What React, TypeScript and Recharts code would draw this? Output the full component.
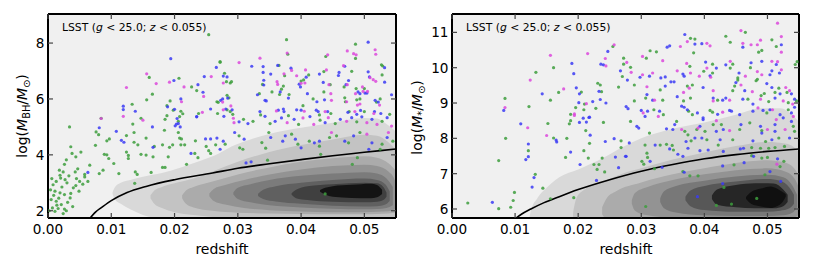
import React from 'react';
import { ComposedChart, Area, Line, Scatter, XAxis, YAxis, CartesianGrid } from 'recharts';

// [redshift, value]
type P = [number, number];
// [redshift, lower edge, upper edge]
type B = [number, number, number];

const FONT = '"DejaVu Sans", Verdana, sans-serif';
const Z_TICKS = [0, 0.01, 0.02, 0.03, 0.04, 0.05];
const BH_TICKS = [2, 4, 6, 8];
const STAR_TICKS = [6, 7, 8, 9, 10, 11];
const BH_DOMAIN: [number, number] = [1.74, 9.04];
const STAR_DOMAIN: [number, number] = [5.745, 11.52];
const BH_FILLS = ['#d9d9d9', '#c3c3c3', '#ababab', '#939393', '#7b7b7b', '#606060', '#404040', '#141414'];
const STAR_FILLS = ['#d9d9d9', '#c3c3c3', '#ababab', '#939393', '#787878', '#575757', '#262626', '#101010'];
const GREEN = '#3d9e3d';
const BLUE = '#3b3bf5';
const MAGENTA = '#dc48dc';

// density contours, black hole mass panel (outer -> inner)
const BH_CONTOURS: B[][] = [
  [[0.0102, 2.6, 2.66], [0.0106, 2.4, 2.85], [0.0115, 2.25, 3.0], [0.013, 2.05, 3.1], [0.015, 1.85, 3.22], [0.018, 1.7, 3.35], [0.021, 1.6, 3.55], [0.024, 1.6, 3.78], [0.027, 1.6, 4.05], [0.029, 1.6, 4.3], [0.032, 1.6, 4.55], [0.035, 1.6, 4.75], [0.04, 1.6, 4.97], [0.045, 1.6, 5.15], [0.05, 1.6, 5.32], [0.052, 1.6, 5.3], [0.0535, 1.6, 5.1], [0.0556, 1.6, 4.7]],
  [[0.0162, 2.45, 2.55], [0.0168, 2.25, 2.72], [0.018, 2.1, 2.85], [0.02, 1.95, 2.98], [0.023, 1.85, 3.15], [0.026, 1.78, 3.4], [0.03, 1.75, 3.75], [0.035, 1.72, 4.1], [0.04, 1.7, 4.35], [0.045, 1.7, 4.55], [0.05, 1.7, 4.72], [0.052, 1.7, 4.68], [0.0538, 1.72, 4.45], [0.0556, 1.75, 4.0]],
  [[0.0212, 2.45, 2.55], [0.0218, 2.25, 2.72], [0.023, 2.12, 2.85], [0.026, 2.0, 3.05], [0.03, 1.93, 3.3], [0.035, 1.9, 3.55], [0.04, 1.88, 3.75], [0.045, 1.87, 3.88], [0.05, 1.87, 3.95], [0.052, 1.88, 3.9], [0.0538, 1.9, 3.7], [0.0553, 1.95, 3.35]],
  [[0.0255, 2.52, 2.62], [0.0262, 2.35, 2.78], [0.028, 2.22, 2.92], [0.031, 2.1, 3.1], [0.035, 2.02, 3.3], [0.04, 1.97, 3.48], [0.045, 1.95, 3.6], [0.05, 1.95, 3.65], [0.052, 1.96, 3.6], [0.0538, 1.98, 3.4], [0.0548, 2.05, 3.1], [0.0552, 2.2, 2.8]],
  [[0.0293, 2.58, 2.66], [0.03, 2.42, 2.82], [0.032, 2.3, 2.95], [0.035, 2.2, 3.1], [0.04, 2.12, 3.25], [0.045, 2.07, 3.33], [0.05, 2.05, 3.38], [0.052, 2.06, 3.33], [0.0535, 2.1, 3.15], [0.0545, 2.2, 2.85]],
  [[0.0332, 2.53, 2.61], [0.034, 2.42, 2.75], [0.036, 2.33, 2.88], [0.04, 2.25, 3.0], [0.045, 2.18, 3.1], [0.05, 2.15, 3.15], [0.052, 2.16, 3.1], [0.0533, 2.22, 2.95], [0.054, 2.35, 2.7]],
  [[0.0385, 2.57, 2.63], [0.0392, 2.45, 2.75], [0.041, 2.38, 2.88], [0.045, 2.32, 2.95], [0.05, 2.3, 3.0], [0.052, 2.32, 2.98], [0.053, 2.38, 2.85], [0.0535, 2.5, 2.65]],
  [[0.043, 2.68, 2.74], [0.0438, 2.58, 2.82], [0.045, 2.5, 2.88], [0.048, 2.46, 2.93], [0.051, 2.45, 2.97], [0.052, 2.48, 2.92], [0.0528, 2.6, 2.75]],
];

const BH_CURVE: P[] = [[0.0066, 1.72], [0.0075, 1.95], [0.0085, 2.12], [0.01, 2.36], [0.0125, 2.65], [0.0155, 2.87], [0.02, 3.11], [0.026, 3.35], [0.03, 3.52], [0.035, 3.68], [0.04, 3.83], [0.045, 3.97], [0.05, 4.09], [0.055, 4.21]];

const BH_GREEN: P[] = [
  [0.0254, 8.3], [0.0272, 7.34], [0.016, 6.77], [0.0207, 6.74], [0.0227, 6.43], [0.0235, 6.3], [0.0165, 6.17], [0.0193, 5.93], [0.0156, 5.97], [0.0133, 5.81], [0.0188, 5.76], [0.0198, 5.6], [0.021, 5.56], [0.0213, 5.47], [0.0238, 5.48], [0.0267, 5.9], [0.0269, 5.88], [0.0208, 5.37], [0.0188, 5.4], [0.0084, 5.31], [0.0147, 5.31], [0.0268, 5.48],
  [0.0377, 8.12], [0.0486, 7.96], [0.0486, 7.45], [0.0379, 7.6], [0.0439, 7.52], [0.0365, 7.2], [0.0412, 6.86], [0.0374, 6.83], [0.0436, 6.98], [0.048, 6.99], [0.0527, 7.22], [0.0529, 7.18], [0.0528, 6.86], [0.0279, 6.92], [0.0282, 6.62], [0.0288, 6.57], [0.029, 6.62], [0.0272, 7.31], [0.0339, 6.52], [0.0372, 6.46], [0.04, 6.64], [0.0404, 6.68], [0.0446, 6.51], [0.0468, 6.43], [0.0487, 6.37], [0.05, 6.37], [0.0283, 6.13], [0.0286, 6.04], [0.0334, 6.19], [0.0354, 6.25], [0.0366, 6.16], [0.0369, 6.35], [0.0381, 6.16], [0.0419, 6.0], [0.0436, 6.25], [0.0469, 6.04], [0.047, 5.9], [0.0488, 5.97], [0.0493, 6.0], [0.0519, 5.89], [0.0525, 6.0], [0.0283, 5.61], [0.0288, 5.55], [0.0292, 5.45], [0.0336, 5.43], [0.038, 5.4], [0.0403, 5.76], [0.0429, 5.43], [0.0447, 5.48], [0.0476, 5.55], [0.05, 5.55], [0.054, 5.45],
  [0.0185, 5.27], [0.0206, 5.2], [0.0034, 5.0], [0.0076, 4.82], [0.008, 4.72], [0.0134, 5.1], [0.0206, 4.8], [0.0184, 4.88], [0.0155, 4.6], [0.0136, 4.8], [0.0124, 4.69], [0.0097, 4.57], [0.0093, 4.5], [0.0136, 4.45], [0.0075, 4.34], [0.0036, 4.29], [0.0038, 4.05], [0.0052, 4.1], [0.0044, 3.93], [0.0026, 3.66], [0.0029, 3.82], [0.0024, 3.39], [0.0019, 3.27], [0.002, 3.17], [0.0027, 3.11], [0.003, 3.0], [0.0013, 3.05], [0.0008, 2.93], [0.0004, 2.75], [0.0011, 2.7], [0.0019, 2.64], [0.0026, 2.58], [0.0005, 2.4], [0.0013, 2.34], [0.0021, 2.22], [0.0007, 2.1], [0.0016, 2.08], [0.0026, 2.06], [0.0002, 2.0], [0.0011, 1.98], [0.0029, 2.0], [0.0043, 3.39], [0.0045, 3.15], [0.005, 3.05], [0.0058, 3.21], [0.0063, 3.05], [0.0049, 2.7], [0.0035, 2.46], [0.004, 2.82], [0.0066, 3.63], [0.0081, 3.33], [0.0087, 3.45], [0.0096, 3.87], [0.0089, 4.02], [0.0104, 3.69], [0.0112, 3.33], [0.0138, 3.39], [0.0141, 3.3], [0.0137, 2.98], [0.0124, 4.1], [0.0127, 3.98], [0.0127, 3.87], [0.0147, 4.02], [0.0155, 3.99], [0.0168, 4.3], [0.0166, 3.93], [0.0163, 3.37], [0.0181, 3.55], [0.0185, 3.55], [0.0181, 4.36], [0.0192, 4.27], [0.0197, 4.36], [0.019, 3.93], [0.0142, 4.36], [0.0093, 4.0], [0.0208, 4.6], [0.0211, 4.57], [0.0233, 4.5], [0.0232, 4.05], [0.021, 4.36], [0.0216, 4.36], [0.025, 4.3], [0.0257, 4.05], [0.0219, 3.66], [0.0237, 3.9], [0.0254, 4.15], [0.0265, 4.36],
  [0.0009, 2.55], [0.0017, 2.45], [0.0031, 2.3], [0.0036, 2.62], [0.0044, 2.9], [0.0022, 2.85], [0.0014, 2.2], [0.0033, 3.25], [0.0055, 2.95], [0.0047, 3.5], [0.0006, 3.15], [0.0024, 1.9], [0.0039, 2.15], [0.0018, 3.45], [0.0058, 3.3],
  [0.0309, 5.27], [0.0324, 5.2], [0.0351, 5.12], [0.0396, 5.09], [0.043, 5.24], [0.0454, 5.12], [0.0488, 5.18], [0.0528, 5.2], [0.028, 4.38], [0.0302, 4.68], [0.0303, 4.25], [0.0308, 4.2], [0.0338, 4.44], [0.0344, 4.24], [0.0349, 4.8], [0.0385, 4.74], [0.0395, 4.38], [0.0413, 4.49], [0.0429, 4.31], [0.0445, 4.62], [0.0456, 4.68], [0.0475, 4.43], [0.0493, 4.8], [0.0525, 4.2], [0.0528, 4.38], [0.0545, 4.49], [0.0347, 3.81], [0.0431, 4.02], [0.0489, 3.9], [0.0481, 3.66], [0.0438, 2.6],
];

const BH_BLUE: P[] = [
  [0.0194, 7.44], [0.0266, 7.13], [0.0199, 6.66], [0.0247, 6.8], [0.0237, 6.51], [0.0245, 6.24], [0.021, 6.0], [0.0119, 5.74], [0.0119, 5.62], [0.0138, 5.56], [0.0189, 5.72], [0.02, 5.63], [0.0257, 5.64], [0.0235, 5.37],
  [0.0506, 8.03], [0.0322, 7.17], [0.034, 7.16], [0.0363, 7.2], [0.0384, 7.1], [0.034, 6.95], [0.0352, 6.89], [0.0429, 6.89], [0.046, 6.95], [0.0459, 6.84], [0.0469, 7.17], [0.0506, 6.97], [0.0508, 6.79], [0.0532, 7.12], [0.0532, 6.6], [0.0277, 6.82], [0.0283, 6.79], [0.0341, 6.67], [0.0341, 6.5], [0.0397, 6.53], [0.0399, 6.43], [0.0408, 6.78], [0.0435, 6.59], [0.0475, 6.66], [0.0471, 6.51], [0.049, 6.25], [0.0493, 6.19], [0.0501, 6.21], [0.0504, 6.21], [0.0543, 6.15], [0.0273, 5.95], [0.0276, 6.0], [0.0284, 6.03], [0.0331, 6.15], [0.0343, 5.95], [0.0345, 5.93], [0.0367, 6.25], [0.038, 6.03], [0.041, 6.19], [0.0425, 5.9], [0.0437, 5.97], [0.0517, 5.95], [0.0522, 5.89], [0.0281, 5.64], [0.0291, 5.61], [0.0335, 5.55], [0.0364, 5.6], [0.0372, 5.64], [0.0373, 5.55], [0.0393, 5.61], [0.04, 5.6], [0.0424, 5.6], [0.0427, 5.55], [0.0442, 5.55], [0.0474, 5.52], [0.0488, 5.45], [0.0494, 5.59], [0.0516, 5.55], [0.0526, 5.48],
  [0.0204, 5.3], [0.0235, 5.36], [0.0081, 4.97], [0.0108, 4.84], [0.0165, 5.0], [0.0201, 5.04], [0.0203, 5.1], [0.0206, 5.12], [0.0209, 5.0], [0.0116, 4.52], [0.012, 4.45], [0.0063, 3.37], [0.0166, 4.27], [0.0226, 4.05], [0.0249, 4.57], [0.0257, 4.57], [0.0267, 4.6],
  [0.0278, 5.38], [0.0302, 5.18], [0.0316, 5.12], [0.0343, 5.38], [0.0359, 5.2], [0.0369, 5.32], [0.0389, 5.27], [0.0414, 5.37], [0.0438, 5.15], [0.0462, 5.27], [0.048, 5.33], [0.0496, 5.36], [0.0512, 5.27], [0.0536, 5.33], [0.0277, 4.49], [0.0272, 4.2], [0.0295, 4.8], [0.031, 4.56], [0.0352, 4.62], [0.0371, 4.49], [0.0375, 4.68], [0.0391, 4.56], [0.0421, 4.43], [0.04, 4.25], [0.0429, 4.49], [0.0469, 4.49], [0.0483, 4.68], [0.0512, 4.43], [0.0507, 4.2], [0.0536, 4.62], [0.0313, 3.71], [0.0321, 3.75],
];

const BH_MAGENTA: P[] = [
  [0.0156, 6.9], [0.0124, 6.41], [0.0171, 6.55], [0.0192, 6.6], [0.0258, 6.8], [0.0215, 6.43], [0.0246, 6.09], [0.0211, 5.9], [0.0119, 5.38], [0.0244, 5.52],
  [0.0473, 7.72], [0.0483, 7.62], [0.0487, 7.58], [0.0517, 7.76], [0.0518, 7.6], [0.0335, 7.46], [0.0378, 7.64], [0.0442, 7.58], [0.0302, 7.3], [0.0385, 7.02], [0.0407, 7.04], [0.0373, 6.9], [0.044, 7.04], [0.0467, 7.19], [0.0509, 6.76], [0.0514, 6.69], [0.0518, 6.63], [0.0277, 6.57], [0.0362, 6.62], [0.0363, 6.52], [0.0393, 6.83], [0.04, 6.56], [0.0406, 6.57], [0.0444, 6.51], [0.0473, 6.51], [0.0486, 6.19], [0.0497, 6.43], [0.0498, 6.27], [0.0505, 6.27], [0.0276, 5.89], [0.0447, 6.19], [0.0448, 5.95], [0.0472, 5.9], [0.0489, 5.78], [0.0493, 5.82], [0.0524, 5.78], [0.0277, 5.61], [0.0289, 5.75], [0.0293, 5.31], [0.0361, 5.57], [0.0405, 5.56], [0.0438, 5.55], [0.0485, 5.55], [0.0515, 5.48],
  [0.0084, 5.3], [0.015, 5.24],
  [0.0294, 5.15], [0.0378, 5.15], [0.0403, 5.32], [0.042, 5.09], [0.0443, 5.33], [0.0472, 5.2], [0.0504, 5.15], [0.052, 5.09], [0.0543, 5.03], [0.0448, 4.8], [0.0504, 4.74], [0.0538, 4.8],
];

// density contours, stellar mass panel (outer -> inner)
const STAR_CONTOURS: B[][] = [
  [[0.0122, 5.6, 5.7], [0.0125, 5.6, 5.95], [0.0135, 5.6, 6.3], [0.015, 5.6, 6.6], [0.017, 5.6, 6.9], [0.02, 5.6, 7.12], [0.024, 5.6, 7.45], [0.027, 5.6, 7.75], [0.03, 5.6, 8.0], [0.035, 5.6, 8.27], [0.04, 5.6, 8.45], [0.045, 5.6, 8.67], [0.049, 5.6, 8.85], [0.052, 5.6, 8.85], [0.054, 5.6, 8.65], [0.0556, 5.6, 8.35]],
  [[0.0192, 5.6, 5.9], [0.0197, 5.6, 6.3], [0.021, 5.6, 6.55], [0.024, 5.6, 6.78], [0.027, 5.6, 7.0], [0.03, 5.6, 7.15], [0.035, 5.6, 7.4], [0.04, 5.6, 7.6], [0.045, 5.6, 7.78], [0.05, 5.6, 7.9], [0.053, 5.6, 7.85], [0.055, 5.6, 7.6], [0.0558, 5.6, 7.3]],
  [[0.0238, 5.85, 6.05], [0.0245, 5.7, 6.3], [0.026, 5.65, 6.5], [0.03, 5.62, 6.75], [0.035, 5.6, 6.98], [0.04, 5.6, 7.15], [0.045, 5.6, 7.3], [0.05, 5.6, 7.38], [0.053, 5.62, 7.3], [0.0548, 5.65, 7.0], [0.0556, 5.7, 6.6]],
  [[0.0285, 6.15, 6.25], [0.029, 5.95, 6.45], [0.031, 5.82, 6.62], [0.035, 5.75, 6.82], [0.04, 5.72, 6.98], [0.045, 5.7, 7.1], [0.05, 5.7, 7.15], [0.053, 5.72, 7.05], [0.0545, 5.78, 6.8], [0.0553, 5.9, 6.45]],
  [[0.033, 6.2, 6.3], [0.0336, 6.02, 6.5], [0.0355, 5.9, 6.65], [0.04, 5.82, 6.8], [0.045, 5.8, 6.92], [0.05, 5.8, 6.97], [0.0525, 5.82, 6.9], [0.054, 5.9, 6.65], [0.0547, 6.05, 6.4]],
  [[0.037, 6.25, 6.35], [0.0378, 6.08, 6.52], [0.04, 5.97, 6.65], [0.045, 5.92, 6.78], [0.05, 5.92, 6.85], [0.052, 5.95, 6.8], [0.0535, 6.02, 6.6], [0.0542, 6.15, 6.4]],
  [[0.0412, 6.28, 6.38], [0.042, 6.12, 6.55], [0.045, 6.05, 6.68], [0.048, 6.02, 6.73], [0.051, 6.02, 6.72], [0.0525, 6.08, 6.55], [0.0532, 6.2, 6.4]],
  [[0.0466, 6.28, 6.34], [0.0474, 6.15, 6.48], [0.049, 6.07, 6.58], [0.0505, 6.03, 6.64], [0.0515, 6.08, 6.58], [0.0524, 6.2, 6.48], [0.0529, 6.35, 6.42]],
];

const STAR_CURVE: P[] = [[0.01, 5.72], [0.011, 5.85], [0.0125, 6.0], [0.0146, 6.18], [0.017, 6.35], [0.02, 6.55], [0.025, 6.83], [0.03, 7.07], [0.035, 7.26], [0.04, 7.42], [0.045, 7.54], [0.05, 7.63], [0.055, 7.7]];

const STAR_GREEN: P[] = [
  [0.0255, 10.6], [0.0272, 10.27], [0.0161, 10.0], [0.0133, 9.87], [0.027, 9.75], [0.0231, 9.56], [0.0235, 9.51], [0.0264, 9.45], [0.0169, 9.3], [0.0205, 9.31], [0.0237, 9.32], [0.0084, 9.13], [0.0122, 8.9], [0.0156, 9.08], [0.021, 8.97], [0.0196, 8.87], [0.0209, 8.81], [0.0228, 8.85], [0.0188, 8.68],
  [0.0465, 11.0], [0.0378, 10.83], [0.0385, 10.81], [0.0434, 10.89], [0.0441, 10.72], [0.0507, 10.79], [0.0514, 10.6], [0.0383, 10.42], [0.0486, 10.44], [0.0491, 10.49], [0.0314, 10.48], [0.0324, 10.45], [0.0308, 10.27], [0.0283, 10.01], [0.0272, 10.1], [0.0377, 10.04], [0.0413, 10.1], [0.0445, 10.1], [0.0441, 9.99], [0.0544, 10.09], [0.0547, 10.17], [0.0473, 10.0], [0.0453, 9.71], [0.0399, 9.9], [0.0413, 9.85], [0.0289, 9.51], [0.033, 9.37], [0.0373, 9.48], [0.0381, 9.51], [0.0448, 9.48], [0.0453, 9.65], [0.0445, 9.35], [0.0482, 9.63], [0.0484, 9.67], [0.0518, 9.42], [0.0512, 9.3], [0.0531, 9.3], [0.0421, 9.08], [0.0469, 9.11], [0.049, 9.21], [0.0495, 9.27], [0.0502, 9.04], [0.0533, 9.01], [0.0546, 9.06], [0.0307, 9.14], [0.0334, 9.08], [0.0367, 9.06], [0.0378, 9.14], [0.0289, 9.06], [0.032, 8.81], [0.0335, 8.67], [0.0375, 8.77], [0.0381, 8.67], [0.0409, 8.79], [0.0413, 8.74], [0.0499, 8.72], [0.0533, 8.81],
  [0.0188, 8.5], [0.0186, 8.41], [0.024, 8.45], [0.0152, 8.42], [0.0212, 8.22], [0.0161, 8.01], [0.0182, 8.0], [0.0085, 8.0], [0.0268, 7.93], [0.0218, 7.86], [0.0121, 7.65], [0.0074, 7.37], [0.018, 7.46], [0.0209, 7.65], [0.0216, 7.44], [0.0238, 7.44], [0.0225, 7.26], [0.0233, 7.26], [0.0268, 7.74], [0.023, 7.12], [0.0242, 7.05], [0.0132, 6.98], [0.0144, 6.59], [0.0099, 6.47], [0.0097, 6.24], [0.0025, 6.17], [0.0074, 6.01], [0.0093, 6.05], [0.0193, 6.32], [0.0156, 6.29],
  [0.0313, 8.15], [0.0283, 8.48], [0.0356, 8.48], [0.0369, 8.2], [0.0374, 8.1], [0.0388, 8.25], [0.0401, 8.2], [0.0414, 8.39], [0.0427, 8.39], [0.0456, 8.25], [0.0472, 8.44], [0.0491, 8.22], [0.0541, 8.34], [0.0543, 8.2], [0.0379, 7.93], [0.0404, 7.96], [0.0422, 7.81], [0.0445, 7.96], [0.0475, 7.74], [0.0489, 7.72], [0.0497, 7.91], [0.0518, 8.01], [0.0527, 7.77], [0.0502, 7.72], [0.0512, 7.74], [0.0306, 7.81], [0.033, 7.81], [0.034, 7.83], [0.0349, 7.8], [0.0351, 7.67], [0.0309, 7.58], [0.031, 7.46], [0.0301, 7.35], [0.0304, 7.27], [0.0321, 7.14], [0.0366, 7.06], [0.0377, 6.94], [0.039, 6.94], [0.0447, 7.25], [0.0475, 7.51], [0.0491, 7.44], [0.05, 7.46], [0.0526, 7.35], [0.052, 7.2], [0.0496, 6.97], [0.0431, 6.61], [0.0483, 6.3], [0.0307, 6.07], [0.0419, 6.1], [0.0443, 6.14],
];

const STAR_BLUE: P[] = [
  [0.0247, 10.46], [0.0236, 10.1], [0.024, 10.08], [0.019, 10.12], [0.0193, 9.83], [0.0267, 9.91], [0.0197, 9.43], [0.0143, 9.26], [0.0202, 9.26], [0.0233, 9.33], [0.0082, 8.79], [0.0201, 9.01], [0.0223, 9.04], [0.0235, 9.1], [0.0244, 9.0], [0.0208, 8.57], [0.0217, 8.59],
  [0.0369, 10.94], [0.0345, 10.62], [0.0341, 10.58], [0.0385, 10.67], [0.0396, 10.68], [0.0461, 10.58], [0.0522, 10.65], [0.0402, 10.16], [0.0419, 9.99], [0.0434, 10.08], [0.0474, 10.14], [0.0491, 10.18], [0.0514, 10.09], [0.0507, 9.91], [0.0519, 9.85], [0.0504, 9.8], [0.0455, 9.85], [0.0366, 9.82], [0.0368, 9.76], [0.0409, 9.77], [0.0313, 9.76], [0.0298, 9.73], [0.0331, 9.71], [0.0338, 9.74], [0.0347, 9.6], [0.0352, 9.6], [0.0278, 9.65], [0.0338, 9.48], [0.0398, 9.44], [0.045, 9.58], [0.0464, 9.35], [0.0499, 9.55], [0.0507, 9.44], [0.052, 9.26], [0.0538, 9.26], [0.0543, 9.11], [0.0414, 9.14], [0.0429, 9.08], [0.0434, 9.14], [0.0461, 9.11], [0.0477, 8.97], [0.0512, 9.14], [0.0543, 8.88], [0.0309, 9.24], [0.0318, 9.08], [0.0357, 9.18], [0.0368, 8.88], [0.0276, 8.9], [0.0279, 8.84], [0.03, 8.79], [0.031, 8.77], [0.0329, 8.77], [0.0364, 8.91], [0.0373, 8.81], [0.0389, 8.72], [0.0398, 8.58], [0.0421, 8.68], [0.044, 8.79], [0.0443, 8.77], [0.0456, 8.67], [0.0477, 8.77], [0.0493, 8.79], [0.052, 8.67], [0.0538, 8.72], [0.0504, 8.81],
  [0.0202, 8.45], [0.0213, 8.46], [0.0109, 8.41], [0.0218, 8.6], [0.0219, 8.09], [0.0165, 7.95], [0.0166, 7.9], [0.0243, 7.91], [0.0257, 7.99], [0.0121, 7.84], [0.0121, 7.48], [0.0117, 7.4], [0.0188, 7.61], [0.0203, 7.26], [0.0259, 7.47], [0.0276, 7.49], [0.0264, 7.17], [0.013, 6.89], [0.0127, 6.62], [0.0229, 6.81], [0.0064, 6.19],
  [0.0293, 8.34], [0.0296, 8.29], [0.0306, 8.62], [0.034, 8.27], [0.0353, 8.39], [0.035, 8.25], [0.0393, 8.34], [0.0398, 8.53], [0.0419, 8.2], [0.043, 8.25], [0.0458, 8.39], [0.0489, 8.34], [0.0512, 8.39], [0.0525, 8.58], [0.0538, 8.48], [0.0371, 7.91], [0.0374, 7.72], [0.0385, 8.01], [0.0396, 8.01], [0.0393, 7.65], [0.0406, 7.67], [0.0425, 7.96], [0.043, 7.63], [0.0457, 7.7], [0.0462, 7.72], [0.0477, 7.93], [0.0491, 8.15], [0.0507, 7.96], [0.0512, 8.2], [0.0535, 8.01], [0.0281, 7.87], [0.0322, 7.81], [0.0345, 7.7], [0.0358, 7.55], [0.0366, 7.49], [0.0275, 7.49], [0.0314, 7.35], [0.0333, 7.18], [0.0368, 7.04], [0.0429, 7.22], [0.0463, 7.31], [0.0478, 7.49], [0.0516, 7.42], [0.0504, 7.06], [0.0521, 6.78], [0.0429, 6.72], [0.0389, 6.35],
];

const STAR_MAGENTA: P[] = [
  [0.0257, 10.65], [0.0156, 10.35], [0.0215, 10.4], [0.0243, 10.26], [0.0244, 10.05], [0.0124, 9.65], [0.0177, 9.4], [0.0084, 8.87], [0.0213, 8.98], [0.0194, 8.69],
  [0.0516, 11.26], [0.0458, 11.05], [0.0522, 10.88], [0.0373, 10.74], [0.0489, 10.78], [0.0461, 10.69], [0.0474, 10.65], [0.0484, 10.65], [0.0362, 10.6], [0.0404, 10.69], [0.0409, 10.62], [0.0522, 10.44], [0.0302, 10.32], [0.0334, 10.2], [0.0277, 10.15], [0.0284, 9.87], [0.0372, 10.12], [0.0404, 9.99], [0.0441, 10.18], [0.0507, 10.18], [0.0516, 10.17], [0.0522, 9.94], [0.0484, 9.89], [0.0491, 9.8], [0.0465, 9.76], [0.0357, 9.91], [0.0378, 9.85], [0.0392, 9.76], [0.041, 9.73], [0.0318, 9.85], [0.0302, 9.8], [0.0309, 9.46], [0.0376, 9.42], [0.0458, 9.51], [0.0476, 9.32], [0.0529, 9.44], [0.0535, 9.35], [0.0414, 9.35], [0.0414, 9.06], [0.044, 9.08], [0.0489, 9.11], [0.0525, 9.06], [0.054, 8.97], [0.0321, 9.08], [0.0367, 9.3], [0.0303, 8.72], [0.0429, 8.74], [0.0508, 8.81], [0.0485, 8.86],
  [0.012, 8.3], [0.015, 8.08], [0.0194, 8.65],
  [0.0327, 8.62], [0.0364, 8.25], [0.039, 8.29], [0.0419, 8.5], [0.044, 8.22], [0.05, 8.25], [0.0514, 8.53], [0.0528, 8.25], [0.0541, 8.62], [0.0515, 7.27],
];

const toPts = (a: P[]) => a.map(([z, v]) => ({ z, v }));
const toBand = (a: B[]) => a.map(([z, lo, hi]) => ({ z, lo, hi }));
const bandRange = (d: { lo: number; hi: number }) => [d.lo, d.hi];

const AXIS_LINE = { stroke: '#000', strokeWidth: 2 };
const TICK_STROKE = '#444';

const BottomTick = ({ x, y, payload }: any) => (
  <g>
    <line x1={x} y1={y} x2={x} y2={y - 5} stroke={TICK_STROKE} strokeWidth={1.2} />
    <text x={x} y={y + 16} textAnchor="middle" fontSize={13.6} fontFamily={FONT} fill="#000">
      {Number(payload.value).toFixed(2)}
    </text>
  </g>
);

const TopTick = ({ x, y }: any) => (
  <line x1={x} y1={y} x2={x} y2={y + 5} stroke={TICK_STROKE} strokeWidth={1.2} />
);

const LeftTick = ({ x, y, payload }: any) => (
  <g>
    <line x1={x} y1={y} x2={x + 5} y2={y} stroke={TICK_STROKE} strokeWidth={1.2} />
    <text x={x - 3.5} y={y + 5} textAnchor="end" fontSize={13.6} fontFamily={FONT} fill="#000">
      {payload.value}
    </text>
  </g>
);

const RightTick = ({ x, y }: any) => (
  <line x1={x} y1={y} x2={x - 5} y2={y} stroke={TICK_STROKE} strokeWidth={1.2} />
);

const dot = (color: string) => (p: any) => (
  <circle cx={p.cx} cy={p.cy} r={1.6} fill={color} fillOpacity={0.85} />
);

interface PanelProps {
  contours: B[][];
  fills: string[];
  curve: P[];
  green: P[];
  blue: P[];
  magenta: P[];
  yDomain: [number, number];
  yTicks: number[];
  rightMargin: number;
}

const Panel: React.FC<PanelProps> = ({ contours, fills, curve, green, blue, magenta, yDomain, yTicks, rightMargin }) => (
  <ComposedChart width={410} height={271} margin={{ top: 13, right: rightMargin, bottom: 0, left: 0 }}>
    <CartesianGrid fill="#f0f0f0" horizontal={false} vertical={false} />
    <XAxis
      type="number" dataKey="z" domain={[0, 0.055]} ticks={Z_TICKS} interval={0} allowDataOverflow
      height={53} tickSize={0} tickMargin={0} tickLine={false} axisLine={AXIS_LINE} tick={BottomTick}
    />
    <XAxis
      xAxisId="top" orientation="top" type="number" dataKey="z" domain={[0, 0.055]} ticks={Z_TICKS} interval={0}
      allowDataOverflow height={1} tickSize={0} tickMargin={0} tickLine={false} axisLine={AXIS_LINE} tick={TopTick}
    />
    <YAxis
      type="number" domain={yDomain} ticks={yTicks} interval={0} allowDataOverflow width={48}
      tickSize={0} tickMargin={0} tickLine={false} axisLine={AXIS_LINE} tick={LeftTick}
    />
    <YAxis
      yAxisId="right" orientation="right" type="number" domain={yDomain} ticks={yTicks} interval={0} allowDataOverflow
      width={1} tickSize={0} tickMargin={0} tickLine={false} axisLine={AXIS_LINE} tick={RightTick}
    />
    {contours.map((band, i) => (
      <Area
        key={`lvl-${i}`}
        data={toBand(band)}
        dataKey={bandRange}
        type="monotone"
        stroke="none"
        fill={fills[i]}
        fillOpacity={1}
        isAnimationActive={false}
      />
    ))}
    <Scatter data={toPts(green)} dataKey="v" shape={dot(GREEN)} isAnimationActive={false} />
    <Scatter data={toPts(blue)} dataKey="v" shape={dot(BLUE)} isAnimationActive={false} />
    <Scatter data={toPts(magenta)} dataKey="v" shape={dot(MAGENTA)} isAnimationActive={false} />
    <Line data={toPts(curve)} dataKey="v" type="monotone" stroke="#000" strokeWidth={1.6} dot={false} isAnimationActive={false} />
  </ComposedChart>
);

const Annotation = ({ x }: { x: number }) => (
  <text x={x} y={30.5} fontSize={10.8} fontFamily={FONT} fill="#000">
    LSST (<tspan fontStyle="italic">g</tspan> &lt; 25.0; <tspan fontStyle="italic">z</tspan> &lt; 0.055)
  </text>
);

export default function App() {
  return (
    <div style={{ position: 'absolute', left: 0, top: 0, width: 814, height: 271, background: '#fff' }}>
      <div style={{ position: 'absolute', left: 0, top: 0 }}>
        <Panel contours={BH_CONTOURS} fills={BH_FILLS} curve={BH_CURVE} green={BH_GREEN} blue={BH_BLUE} magenta={BH_MAGENTA}
          yDomain={BH_DOMAIN} yTicks={BH_TICKS} rightMargin={13} />
      </div>
      <div style={{ position: 'absolute', left: 404, top: 0 }}>
        <Panel contours={STAR_CONTOURS} fills={STAR_FILLS} curve={STAR_CURVE} green={STAR_GREEN} blue={STAR_BLUE} magenta={STAR_MAGENTA}
          yDomain={STAR_DOMAIN} yTicks={STAR_TICKS} rightMargin={14} />
      </div>
      <svg width={814} height={271} style={{ position: 'absolute', left: 0, top: 0, pointerEvents: 'none' }}>
        <Annotation x={62} />
        <Annotation x={466} />
        <text x={222} y={254} textAnchor="middle" fontSize={14} fontFamily={FONT}>redshift</text>
        <text x={626} y={254} textAnchor="middle" fontSize={14} fontFamily={FONT}>redshift</text>
        <text transform="translate(26.5,116) rotate(-90)" textAnchor="middle" fontSize={14} fontFamily={FONT}>
          log(<tspan fontStyle="italic">M</tspan>
          <tspan fontSize={9.8} dy={3}>BH</tspan>
          <tspan dy={-3}>/</tspan>
          <tspan fontStyle="italic">M</tspan>
          <tspan fontSize={9.8} dy={3}>⊙</tspan>
          <tspan dy={-3}>)</tspan>
        </text>
        <text transform="translate(421.5,117.5) rotate(-90)" textAnchor="middle" fontSize={14} fontFamily={FONT}>
          log(<tspan fontStyle="italic">M</tspan>
          <tspan fontSize={9.8} dy={3}>*</tspan>
          <tspan dy={-3}>/</tspan>
          <tspan fontStyle="italic">M</tspan>
          <tspan fontSize={9.8} dy={3}>⊙</tspan>
          <tspan dy={-3}>)</tspan>
        </text>
      </svg>
    </div>
  );
}
